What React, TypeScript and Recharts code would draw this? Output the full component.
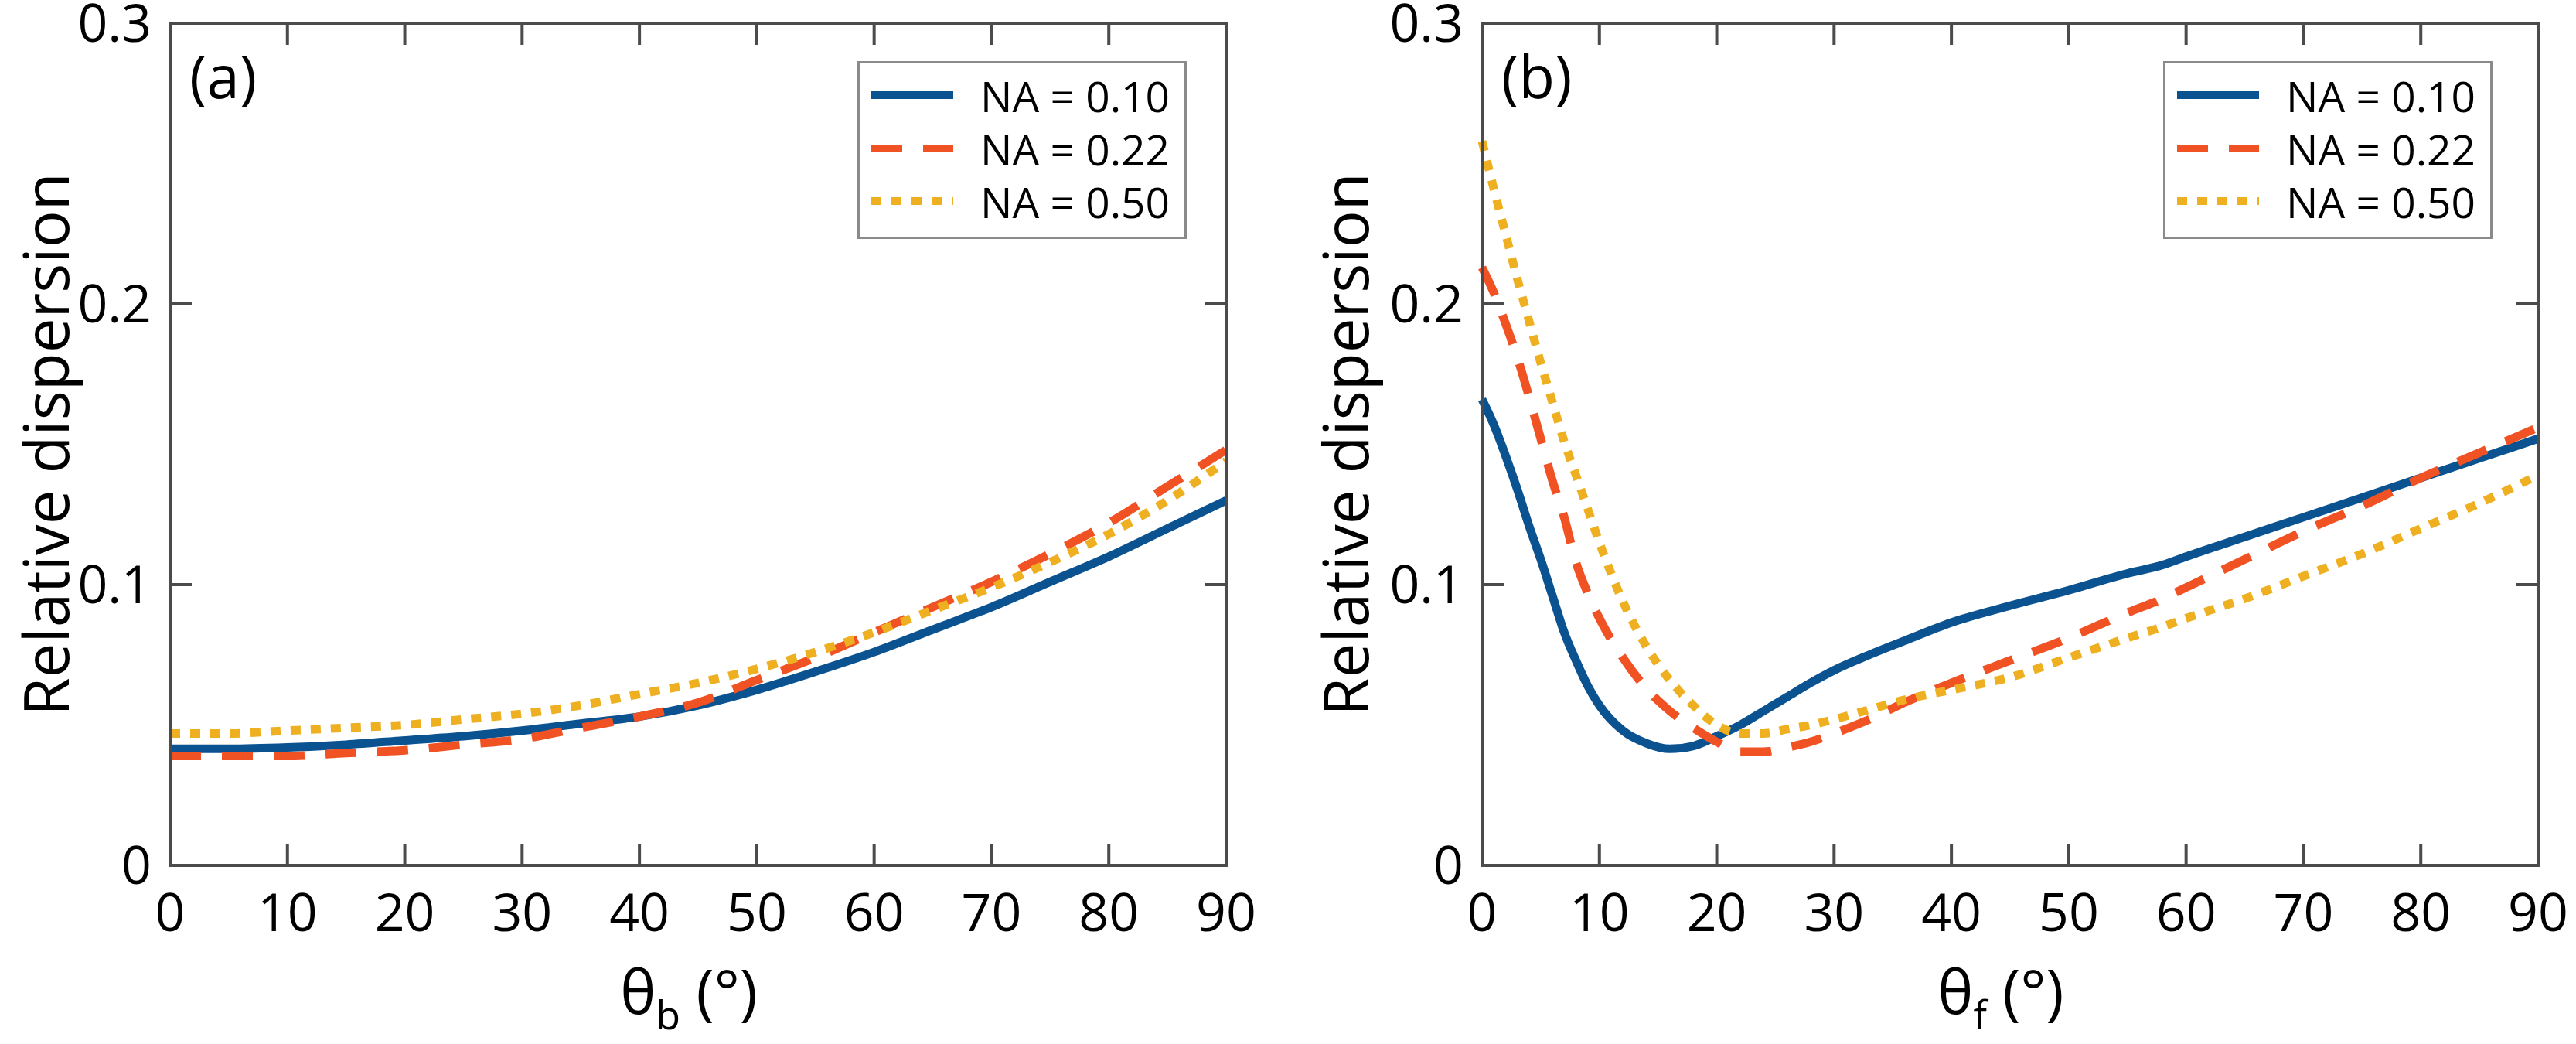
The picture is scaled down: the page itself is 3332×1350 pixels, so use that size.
import React from 'react'
import { LineChart, Line, XAxis, YAxis, Legend, Label } from 'recharts'

// panel (a): dispersion vs theta_b
const anglesA = [0, 5, 10, 15, 20, 25, 30, 35, 40, 45, 50, 55, 60, 65, 70, 75, 80, 85, 90]
const na010A = [0.0415, 0.0415, 0.042, 0.043, 0.0445, 0.046, 0.048, 0.0505, 0.053, 0.057, 0.0625, 0.069, 0.076, 0.084, 0.092, 0.101, 0.11, 0.12, 0.13]
const na022A = [0.039, 0.039, 0.039, 0.04, 0.041, 0.043, 0.045, 0.049, 0.053, 0.058, 0.066, 0.074, 0.083, 0.092, 0.101, 0.111, 0.122, 0.135, 0.148]
const na050A = [0.047, 0.047, 0.048, 0.049, 0.05, 0.052, 0.054, 0.057, 0.061, 0.065, 0.07, 0.076, 0.083, 0.091, 0.099, 0.108, 0.118, 0.13, 0.144]

// panel (b): dispersion vs theta_f
const anglesB = [0, 1, 2, 3, 4, 5, 6, 7, 8, 9, 10, 12, 14, 16, 18, 20, 22, 24, 26, 28, 30, 33, 36, 40, 45, 50, 55, 58, 60, 65, 70, 75, 80, 85, 90]
const na010B = [0.166, 0.157, 0.146, 0.134, 0.121, 0.109, 0.096, 0.083, 0.073, 0.064, 0.057, 0.048, 0.0435, 0.0415, 0.0425, 0.046, 0.05, 0.055, 0.06, 0.065, 0.0695, 0.075, 0.08, 0.0865, 0.0925, 0.098, 0.104, 0.107, 0.11, 0.117, 0.124, 0.131, 0.138, 0.145, 0.152]
const na022B = [0.213, 0.204, 0.193, 0.181, 0.167, 0.152, 0.137, 0.124, 0.108, 0.097, 0.088, 0.074, 0.063, 0.055, 0.049, 0.044, 0.0405, 0.0405, 0.042, 0.044, 0.047, 0.052, 0.058, 0.065, 0.073, 0.081, 0.09, 0.095, 0.099, 0.109, 0.119, 0.128, 0.138, 0.147, 0.156]
const na050B = [0.258, 0.241, 0.225, 0.209, 0.194, 0.179, 0.165, 0.151, 0.139, 0.127, 0.115, 0.094, 0.078, 0.066, 0.057, 0.05, 0.047, 0.047, 0.0485, 0.05, 0.052, 0.0555, 0.059, 0.0625, 0.067, 0.074, 0.081, 0.085, 0.088, 0.095, 0.103, 0.111, 0.12, 0.129, 0.139]

const xTicks = [0, 10, 20, 30, 40, 50, 60, 70, 80, 90]
const yTicks = [0, 0.1, 0.2, 0.3]
const seriesNames = ['NA = 0.10', 'NA = 0.22', 'NA = 0.50']

const FONT = '"Open Sans", "Noto Sans", sans-serif'
const AXIS = '#4b4b4d'
const TICK_LEN = 28
const LINE_W = 11

const styles = [
  { key: 'na010', color: '#0b5290', dash: undefined as string | undefined },
  { key: 'na022', color: '#f15223', dash: '40 27' },
  { key: 'na050', color: '#eeb021', dash: '13 13' },
]

const CHART_W = 1666
const CHART_H = 1350

function BottomTick(props: any) {
  const { x, y, payload } = props
  return (
    <g>
      <line x1={x} x2={x} y1={y} y2={y - TICK_LEN} stroke={AXIS} strokeWidth={4} />
      <text x={x} y={y + 85} textAnchor="middle" fontFamily={FONT} fontSize={68} fill="#000">
        {payload.value}
      </text>
    </g>
  )
}

function TopTick(props: any) {
  const { x, y } = props
  return <line x1={x} x2={x} y1={y} y2={y + TICK_LEN} stroke={AXIS} strokeWidth={4} />
}

function LeftTick(props: any) {
  const { x, y, payload } = props
  return (
    <g>
      <line x1={x} x2={x + TICK_LEN} y1={y} y2={y} stroke={AXIS} strokeWidth={4} />
      <text x={x - 24} y={y + 24} textAnchor="end" fontFamily={FONT} fontSize={68} fill="#000">
        {String(Math.round(payload.value * 10) / 10)}
      </text>
    </g>
  )
}

function RightTick(props: any) {
  const { x, y } = props
  return <line x1={x} x2={x - TICK_LEN} y1={y} y2={y} stroke={AXIS} strokeWidth={4} />
}

function XTitle({ viewBox, sub }: any) {
  const vb = viewBox || { x: 0, y: 0, width: 0 }
  const cx = vb.x + vb.width / 2 - 12
  return (
    <text x={cx} y={vb.y + 192} textAnchor="middle" fontFamily={FONT} fontSize={78} fill="#000">
      θ
      <tspan fontSize={52} dy={20}>{sub}</tspan>
      <tspan dy={-20}> (°)</tspan>
    </text>
  )
}

function YTitle({ viewBox, offset }: any) {
  const vb = viewBox || { x: 0, y: 0, width: 0, height: 0 }
  const cx = vb.x + vb.width - offset
  const cy = vb.y + vb.height / 2
  return (
    <text
      x={cx}
      y={cy}
      transform={`rotate(-90, ${cx}, ${cy})`}
      textAnchor="middle"
      dominantBaseline="central"
      fontFamily={FONT}
      fontSize={80}
      fill="#000"
    >
      Relative dispersion
    </text>
  )
}

function PanelTag({ viewBox, tag }: any) {
  const vb = viewBox || { x: 0, y: 0 }
  return (
    <text x={vb.x + 25} y={vb.y + 98} fontFamily={FONT} fontSize={76} fill="#000">
      ({tag})
    </text>
  )
}

function LegendBox() {
  const rows = [44, 113, 181]
  return (
    <svg width={426} height={230} style={{ display: 'block' }}>
      <rect x={1.5} y={1.5} width={423} height={227} fill="#fff" stroke="#8a8a8a" strokeWidth={3} />
      {styles.map((s, i) => (
        <g key={s.key}>
          <line x1={18} x2={124} y1={rows[i]} y2={rows[i]} stroke={s.color} strokeWidth={10} strokeDasharray={s.dash} />
          <text x={159} y={rows[i] + 22} fontFamily={FONT} fontSize={55} fill="#000">
            {seriesNames[i]}
          </text>
        </g>
      ))}
    </svg>
  )
}

type PanelProps = {
  tag: string
  sub: string
  angles: number[]
  values: number[][]
  marginLeft: number
  legendLeft: number
  yTitleOffset: number
}

function Panel({ tag, sub, angles, values, marginLeft, legendLeft, yTitleOffset }: PanelProps) {
  const rows = angles.map((x, i) => ({
    x,
    na010: values[0][i],
    na022: values[1][i],
    na050: values[2][i],
  }))
  const plotW = 1366
  const yAxisW = 120
  const marginRight = CHART_W - marginLeft - yAxisW - plotW - 1
  const axisLine = { stroke: AXIS, strokeWidth: 4, strokeLinecap: 'square' as const }

  return (
    <LineChart
      width={CHART_W}
      height={CHART_H}
      data={rows}
      margin={{ top: 29, right: marginRight, bottom: 111, left: marginLeft }}
    >
      <XAxis
        xAxisId="b"
        dataKey="x"
        type="number"
        domain={[0, 90]}
        ticks={xTicks}
        interval={0}
        height={120}
        tickSize={0}
        tickMargin={0}
        tickLine={false}
        axisLine={axisLine}
        tick={<BottomTick />}
      >
        <Label content={(p: any) => <XTitle viewBox={p.viewBox} sub={sub} />} />
      </XAxis>
      <XAxis
        xAxisId="t"
        orientation="top"
        dataKey="x"
        type="number"
        domain={[0, 90]}
        ticks={xTicks}
        interval={0}
        height={1}
        tickSize={0}
        tickMargin={0}
        tickLine={false}
        axisLine={axisLine}
        tick={<TopTick />}
      >
        <Label content={(p: any) => <PanelTag viewBox={p.viewBox} tag={tag} />} />
      </XAxis>
      <YAxis
        yAxisId="l"
        type="number"
        domain={[0, 0.3]}
        ticks={yTicks}
        interval={0}
        width={yAxisW}
        tickSize={0}
        tickMargin={0}
        tickLine={false}
        axisLine={axisLine}
        allowDataOverflow
        tick={<LeftTick />}
      >
        <Label content={(p: any) => <YTitle viewBox={p.viewBox} offset={yTitleOffset} />} />
      </YAxis>
      <YAxis
        yAxisId="r"
        orientation="right"
        type="number"
        domain={[0, 0.3]}
        ticks={yTicks}
        interval={0}
        width={1}
        tickSize={0}
        tickMargin={0}
        tickLine={false}
        axisLine={axisLine}
        allowDataOverflow
        tick={<RightTick />}
      />
      <Legend
        layout="vertical"
        align="center"
        verticalAlign="middle"
        content={() => <LegendBox />}
        wrapperStyle={{ left: legendLeft, top: 79, width: 426, height: 230 }}
      />
      {styles.map((s, i) => (
        <Line
          key={s.key}
          xAxisId="b"
          yAxisId="l"
          dataKey={s.key}
          name={seriesNames[i]}
          type="monotone"
          stroke={s.color}
          strokeWidth={LINE_W}
          strokeDasharray={s.dash}
          dot={false}
          activeDot={false}
          isAnimationActive={false}
        />
      ))}
    </LineChart>
  )
}

export default function App() {
  return (
    <div
      style={{
        position: 'absolute',
        left: 0,
        top: 0,
        width: 3332,
        height: 1350,
        background: '#fff',
        display: 'flex',
        fontFamily: FONT,
      }}
    >
      <Panel
        tag="a"
        sub="b"
        angles={anglesA}
        values={[na010A, na022A, na050A]}
        marginLeft={100}
        legendLeft={1109}
        yTitleOffset={163}
      />
      <Panel
        tag="b"
        sub="f"
        angles={anglesB}
        values={[na010B, na022B, na050B]}
        marginLeft={131}
        legendLeft={1132}
        yTitleOffset={179}
      />
    </div>
  )
}
